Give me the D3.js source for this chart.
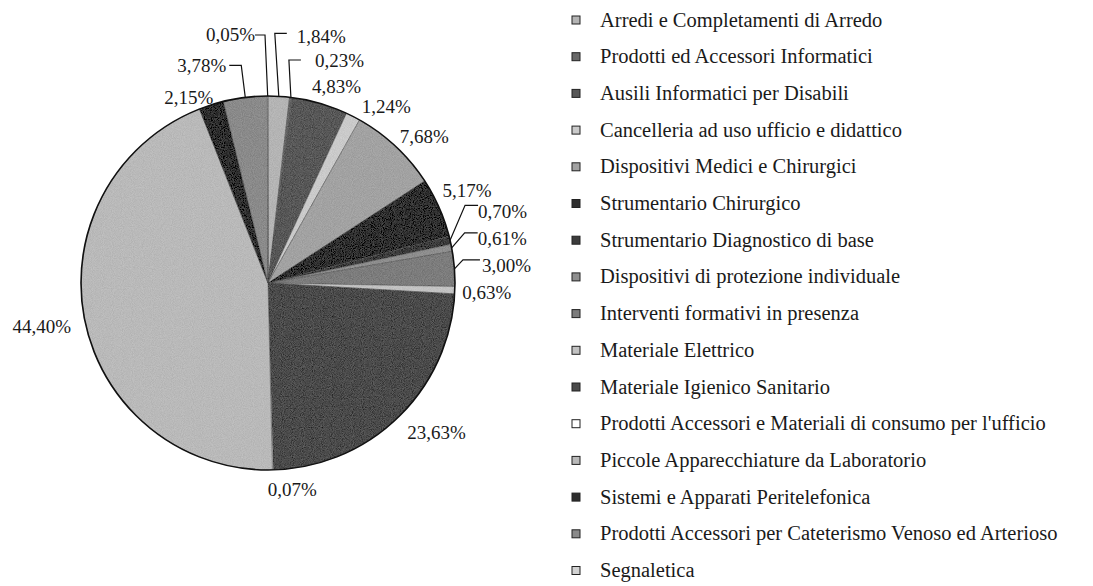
<!DOCTYPE html>
<html lang="it">
<head>
<meta charset="UTF-8" />
<title>Ripartizione per categoria</title>
<script src="https://cdn.jsdelivr.net/npm/d3@7"></script>
<style>
  body { margin: 0; background: #fff; }
  text { font-family: "Liberation Serif", "Times New Roman", serif; fill: #1a1a1a; }
</style>
</head>
<body>
<svg id="vis" width="1093" height="586"></svg>
<script>
// categorie (ordine della legenda = ordine delle fette, in senso orario da ore 12)
const categories = [
  "Arredi e Completamenti di Arredo",
  "Prodotti ed Accessori Informatici",
  "Ausili Informatici per Disabili",
  "Cancelleria ad uso ufficio e didattico",
  "Dispositivi Medici e Chirurgici",
  "Strumentario Chirurgico",
  "Strumentario Diagnostico di base",
  "Dispositivi di protezione individuale",
  "Interventi formativi in presenza",
  "Materiale Elettrico",
  "Materiale Igienico Sanitario",
  "Prodotti Accessori e Materiali di consumo per l'ufficio",
  "Piccole Apparecchiature da Laboratorio",
  "Sistemi e Apparati Peritelefonica",
  "Prodotti Accessori per Cateterismo Venoso ed Arterioso",
  "Segnaletica"
];

// quote percentuali
const shares = [1.84, 0.23, 4.83, 1.24, 7.68, 5.17, 0.70, 0.61, 3.00, 0.63, 23.63, 0.07, 44.40, 2.15, 3.78, 0.05];

// toni di grigio delle fette
const grays = ["#b4b4b4", "#686868", "#575757", "#cacaca", "#a2a2a2", "#2f2f2f", "#3c3c3c", "#8e8e8e",
               "#7c7c7c", "#c2c2c2", "#4a4a4a", "#ffffff", "#b9b9b9", "#2e2e2e", "#8a8a8a", "#d2d2d2"];

// spostamenti manuali delle etichette (come nel grafico originale)
const labelNudge = { 2: [6.5, 1], 3: [16.5, 7], 4: [3.5, 4], 5: [-5.5, -10], 9: [-4.5, 2],
                     10: [9.5, 2], 11: [18.5, 1.5], 12: [-2.5, 3], 13: [-11.5, 10] };
// etichette con linea guida: [dx, dy del gomito, tratto orizzontale, distanza, offset verticale]
const callouts = { 0: [-4, -63, 12, 10, 3], 1: [-2, -37.4, 12, 14, 1], 15: [-2.7, -61, -10, 0, 0],
                   14: [-4, -32, -12, 3, 0], 6: [15, -35, 13, 0, 6], 7: [13, -15, 13, 0, 6],
                   8: [8.5, -9, 17, 2, 6] };

const cx = 268, cy = 283, R = 187;
const svg = d3.select("#vis");

// grana leggera, come la stampa retinata dell'originale
let filt = svg.append("defs").append("filter").attr("id", "grain")
  .attr("x", 0).attr("y", 0).attr("width", "100%").attr("height", "100%");
filt.append("feTurbulence").attr("type", "fractalNoise").attr("baseFrequency", 1.1)
  .attr("numOctaves", 1).attr("seed", 4).attr("result", "noise");
filt.append("feColorMatrix").attr("in", "noise").attr("type", "matrix")
  .attr("values", "1 0 0 0 0  1 0 0 0 0  1 0 0 0 0  0 0 0 0 1").attr("result", "gnoise");
filt.append("feComposite").attr("in", "SourceGraphic").attr("in2", "gnoise")
  .attr("operator", "arithmetic").attr("k1", 0).attr("k2", 1).attr("k3", 0.18).attr("k4", -0.09)
  .attr("result", "mix");
filt.append("feComposite").attr("in", "mix").attr("in2", "SourceGraphic").attr("operator", "in");

const itLocale = d3.formatLocale({ decimal: ",", thousands: ".", grouping: [3], currency: ["", "€"] });
const fmt = v => itLocale.format(".2f")(v) + "%";

const pie = d3.pie().sort(null).value(d => d);
const arcs = pie(shares);
const arc = d3.arc().innerRadius(0).outerRadius(R);

let gPie = svg.append("g").attr("transform", "translate(" + cx + "," + cy + ")");
let gSlices = gPie.append("g").attr("filter", "url(#grain)");

gSlices.selectAll("path.slice")
  .data(arcs)
  .enter().append("path")
  .attr("class", "slice")
  .attr("d", arc)
  .attr("fill", (d, i) => grays[i])
  .attr("stroke", "#444")
  .attr("stroke-width", 0.4);

// bordo esterno
gPie.append("circle").attr("r", R).attr("fill", "none").attr("stroke", "#111").attr("stroke-width", 1.6);

// etichette
const gLab = svg.append("g");
arcs.forEach(function (d, i) {
  const a = (d.startAngle + d.endAngle) / 2;
  const s = Math.sin(a), c = Math.cos(a);
  let t = gLab.append("text").attr("font-size", 19).text(fmt(shares[i]));
  const w = t.node().getComputedTextLength();
  const h = 12.5;

  if (callouts[i]) {
    const [dx, dy, hl, gap, off] = callouts[i];
    const ex = cx + R * s, ey = cy - R * c;
    const bx = ex + dx, by = ey + dy;
    const hx = bx + hl;
    gLab.append("path")
      .attr("d", d3.line()([[ex, ey], [bx, by], [hx, by]]))
      .attr("fill", "none").attr("stroke", "#111").attr("stroke-width", 1.2);
    const left = hl > 0 ? hx + gap : hx - gap - w;
    t.attr("x", left).attr("y", by + off + h / 2);
  } else {
    const ax = cx + (R + 12) * s, ay = cy - (R + 12) * c;
    const nd = labelNudge[i] || [0, 0];
    const left = ax - w * (1 - s) / 2 + nd[0];
    const my = ay - h * c / 2 + nd[1];
    t.attr("x", left).attr("y", my + h / 2);
  }
});

// legenda
const yLeg = d3.scalePoint().domain(categories).range([20, 570.5]);
let gLeg = svg.append("g");
categories.forEach(function (name, i) {
  const y = yLeg(name);
  gLeg.append("rect")
    .attr("x", 572).attr("y", y - 4).attr("width", 8).attr("height", 8)
    .attr("fill", grays[i]).attr("stroke", "#222").attr("stroke-width", 1);
  gLeg.append("text")
    .attr("x", 600).attr("y", y + 6.5)
    .attr("font-size", 20.5)
    .text(name);
});
</script>
</body>
</html>
